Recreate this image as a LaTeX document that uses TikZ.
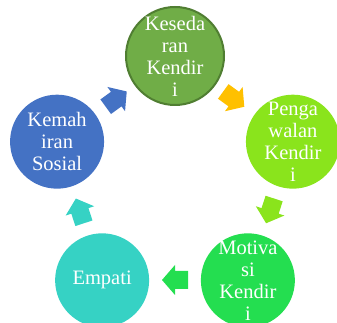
\documentclass[tikz,border=0pt]{standalone}
\usepackage{fontspec}
\setmainfont{Liberation Serif}
\definecolor{kesedaran}{HTML}{70AD47}
\definecolor{garisan}{HTML}{507E32}
\definecolor{pengawalan}{HTML}{8AE41C}
\definecolor{motivasi}{HTML}{24DE50}
\definecolor{empati}{HTML}{36D2C4}
\definecolor{kemahiran}{HTML}{4472C4}
\definecolor{emas}{HTML}{FFC000}
\tikzset{
  bulat/.style={circle, minimum size=94pt, inner sep=0pt},
  teks/.style={align=center, text=white, inner sep=0pt, font=\fontsize{20.5}{22}\selectfont}
}
\begin{document}
\begin{tikzpicture}[x=1pt, y=1pt]
\clip (0,0) rectangle (337,323);
\begin{scope}[shift={(175,143)}]
% bulatan
\node[bulat, fill=kesedaran, draw=garisan, line width=2pt, minimum size=98pt] (kesedaran) at (90:124) {};
\node[bulat, fill=pengawalan] (pengawalan) at (18:124) {};
\node[bulat, fill=motivasi] (motivasi) at (-54:124) {};
\node[bulat, fill=empati] (empati) at (-126:124) {};
\node[bulat, fill=kemahiran] (kemahiran) at (162:124) {};
% teks
\node[teks] (t-kesedaran) at (kesedaran) {Keseda\\ran\\Kendir\\i};
\node[teks] (t-pengawalan) at (pengawalan) {Penga\\walan\\Kendir\\i};
\node[teks] (t-motivasi) at (motivasi) {Motiva\\si\\Kendir\\i};
\node[teks] (t-empati) at (empati) {Empati};
\node[teks] (t-kemahiran) at (kemahiran) {Kemah\\iran\\Sosial};
% anak panah
\foreach \ang/\warna in {54/emas, -18/pengawalan, -90/motivasi, -162/empati, 126/kemahiran}
  \fill[\warna, shift={(\ang:100)}, rotate=\ang-90] (-13,-9) -- (0,-9) -- (0,-15) -- (13,0) -- (0,15) -- (0,9) -- (-13,9) -- cycle;
\end{scope}
\end{tikzpicture}
\end{document}
